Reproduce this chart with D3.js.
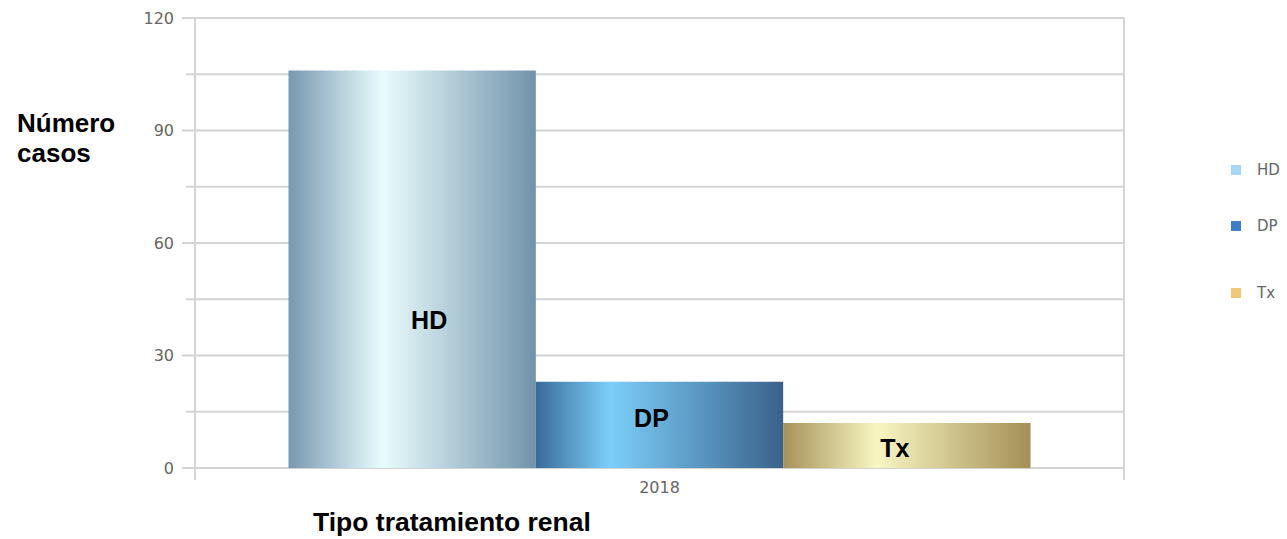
<!DOCTYPE html>
<html>
<head>
<meta charset="utf-8">
<script src="https://cdn.jsdelivr.net/npm/d3@7"></script>
<style>
  body { margin: 0; background: #fff; }
  svg { display: block; }
</style>
</head>
<body>
<div id="chart"></div>
<script>
// data
const years = ["2018"];
const series = ["HD", "DP", "Tx"];
const values = [106, 23, 12];
const labelLevels = [39.5, 13.3, 5.3];   // where the in-bar labels sit (data units)
const labelShift = [17, -8, -12];        // label nudge from bar centre, px
const yTicks = [0, 30, 60, 90, 120];
const yMinorTicks = [15, 45, 75, 105];

const W = 1287, H = 539;
const margin = { top: 18, right: 163, bottom: 71, left: 195 },
    width = W - margin.left - margin.right,
    height = H - margin.top - margin.bottom;

const svg = d3.select("#chart").append("svg")
    .attr("width", W)
    .attr("height", H);

// bar gradients: [offset, colour]
const grads = {
    HD: [["0%", "#7898b0"], ["38%", "#e9fcfd"], ["100%", "#7193ab"]],
    DP: [["0%", "#3a6b9a"], ["30%", "#7bcffa"], ["100%", "#3a628b"]],
    Tx: [["0%", "#a6925a"], ["38%", "#f8f6c2"], ["100%", "#a48f56"]]
};
const legendColors = { HD: "#a6d6f4", DP: "#3f7fc6", Tx: "#f0c878" };

const defs = svg.append("defs");
series.forEach(s => {
    const lg = defs.append("linearGradient")
        .attr("id", "g_" + s)
        .attr("x1", "0%").attr("x2", "100%")
        .attr("y1", "0%").attr("y2", "0%");
    grads[s].forEach(st => lg.append("stop").attr("offset", st[0]).attr("stop-color", st[1]));
});

const g = svg.append("g")
    .attr("transform", "translate(" + margin.left + "," + margin.top + ")");

const x0 = d3.scaleBand().domain(years).range([0, width]).paddingInner(0).paddingOuter(0.126);
const x1 = d3.scaleBand().domain(series).range([0, x0.bandwidth()]);
const y = d3.scaleLinear().domain([0, 120]).range([height, 0]);

// grid lines
g.selectAll(".grid-major")
    .data(yTicks)
    .enter().append("line")
    .attr("x1", -13).attr("x2", width)
    .attr("y1", d => y(d)).attr("y2", d => y(d))
    .attr("stroke", "#d4d4d4").attr("stroke-width", 2);
g.selectAll(".grid-minor")
    .data(yMinorTicks)
    .enter().append("line")
    .attr("x1", -9).attr("x2", width)
    .attr("y1", d => y(d)).attr("y2", d => y(d))
    .attr("stroke", "#d4d4d4").attr("stroke-width", 2);

// left and right frame lines
[0, width].forEach(xx => {
    g.append("line")
        .attr("x1", xx).attr("x2", xx)
        .attr("y1", 0).attr("y2", height + 12)
        .attr("stroke", "#d4d4d4").attr("stroke-width", 2);
});

// y tick labels
g.selectAll(".ylab")
    .data(yTicks)
    .enter().append("text")
    .attr("x", -21)
    .attr("y", d => y(d))
    .attr("dy", "0.35em")
    .attr("text-anchor", "end")
    .attr("font-family", "DejaVu Sans, sans-serif")
    .attr("font-size", "16px")
    .attr("fill", "#666")
    .text(d => d);

// x tick label
g.selectAll(".xlab")
    .data(years)
    .enter().append("text")
    .attr("x", d => x0(d) + x0.bandwidth() / 2)
    .attr("y", height + 25)
    .attr("text-anchor", "middle")
    .attr("font-family", "DejaVu Sans, sans-serif")
    .attr("font-size", "16px")
    .attr("fill", "#666")
    .text(d => d);

// bars
const grp = g.selectAll(".yr")
    .data(years)
    .enter().append("g")
    .attr("transform", d => "translate(" + x0(d) + ",0)");

grp.selectAll("rect")
    .data(series.map((s, i) => ({ s: s, v: values[i] })))
    .enter().append("rect")
    .attr("x", d => x1(d.s))
    .attr("y", d => y(d.v))
    .attr("width", x1.bandwidth())
    .attr("height", d => height - y(d.v))
    .attr("fill", d => "url(#g_" + d.s + ")");

grp.selectAll(".blab")
    .data(series.map((s, i) => ({ s: s, v: labelLevels[i], dx: labelShift[i] })))
    .enter().append("text")
    .attr("x", d => x1(d.s) + x1.bandwidth() / 2 + d.dx)
    .attr("y", d => y(d.v))
    .attr("dy", "0.35em")
    .attr("text-anchor", "middle")
    .attr("font-family", "Liberation Sans, Arial, sans-serif")
    .attr("font-weight", "bold")
    .attr("font-size", "25px")
    .attr("fill", "#000")
    .text(d => d.s);

// axis titles
const yTitle = svg.append("text")
    .attr("font-family", "Liberation Sans, Arial, sans-serif")
    .attr("font-weight", "bold")
    .attr("font-size", "26px")
    .attr("fill", "#000");
yTitle.append("tspan").attr("x", 17).attr("y", 132).text("Número");
yTitle.append("tspan").attr("x", 17).attr("y", 162).text("casos");

svg.append("text")
    .attr("x", 313)
    .attr("y", 531)
    .attr("font-family", "Liberation Sans, Arial, sans-serif")
    .attr("font-weight", "bold")
    .attr("font-size", "26.5px")
    .attr("fill", "#000")
    .text("Tipo tratamiento renal");

// legend
const legendY = [170, 226, 293];
const lg = svg.selectAll(".leg")
    .data(series)
    .enter().append("g")
    .attr("transform", (d, i) => "translate(1231," + legendY[i] + ")");
lg.append("rect")
    .attr("x", 0).attr("y", -5)
    .attr("width", 10).attr("height", 10)
    .attr("fill", d => legendColors[d]);
lg.append("text")
    .attr("x", 26).attr("y", 0)
    .attr("dy", "0.35em")
    .attr("font-family", "DejaVu Sans, sans-serif")
    .attr("font-size", "15px")
    .attr("fill", "#666")
    .text(d => d);
</script>
</body>
</html>
